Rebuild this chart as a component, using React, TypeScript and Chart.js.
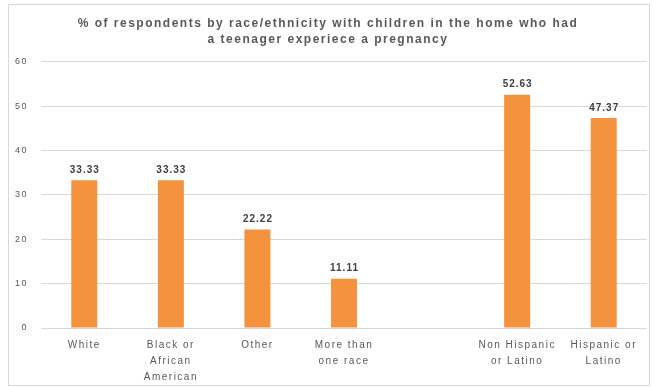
import React, { useEffect, useRef } from "react";
import { Chart, registerables } from "chart.js";

Chart.register(...registerables);

const titleLines = [
  "% of respondents by race/ethnicity with children in the home who had",
  "a teenager experiece a pregnancy",
];
const categories: string[][] = [
  ["White"],
  ["Black or", "African", "American"],
  ["Other"],
  ["More than", "one race"],
  [""],
  ["Non Hispanic", "or Latino"],
  ["Hispanic or", "Latino"],
];
const values: (number | null)[] = [33.33, 33.33, 22.22, 11.11, null, 52.63, 47.37];
const yTicks = [0, 10, 20, 30, 40, 50, 60];

const FONT = "'Liberation Sans', Arial, sans-serif";

const spacing = {
  id: "spacing",
  beforeUpdate(chart: any) {
    chart.ctx.letterSpacing = "1.5px";
  },
  beforeDraw(chart: any) {
    chart.ctx.letterSpacing = "1.5px";
  },
};

const valueLabels = {
  id: "valueLabels",
  afterDatasetsDraw(chart: any) {
    const ctx = chart.ctx;
    const meta = chart.getDatasetMeta(0);
    ctx.save();
    ctx.letterSpacing = "1px";
    ctx.font = `bold 10px ${FONT}`;
    ctx.fillStyle = "#404040";
    ctx.textAlign = "center";
    ctx.textBaseline = "middle";
    meta.data.forEach((bar: any, i: number) => {
      const v = values[i];
      if (v === null || v === undefined) return;
      ctx.fillText(v.toFixed(2), bar.x + 0.5, bar.y - 10);
    });
    ctx.restore();
  },
};

export default function App() {
  const ref = useRef<HTMLCanvasElement>(null);
  useEffect(() => {
    if (!ref.current) return;
    const chart = new Chart(ref.current, {
      type: "bar",
      data: {
        labels: categories,
        datasets: [
          {
            data: values,
            backgroundColor: "#f5923e",
            categoryPercentage: 1,
            barPercentage: 0.3,
          },
        ],
      },
      options: {
        animation: false,
        responsive: false,
        layout: { padding: { left: 0, right: 2, top: 0, bottom: 0 } },
        plugins: {
          legend: { display: false },
          tooltip: { enabled: false },
          title: {
            display: true,
            text: titleLines,
            color: "#595959",
            font: { family: FONT, size: 12, weight: "bold", lineHeight: 1.333 },
            padding: { top: 11, bottom: 14 },
          },
        },
        scales: {
          x: {
            grid: { display: false, drawTicks: false },
            border: { display: false },
            ticks: {
              color: "#595959",
              font: { family: FONT, size: 10, lineHeight: 1.6 },
              maxRotation: 0,
              autoSkip: false,
              padding: 9,
            },
            afterFit(scale: any) {
              scale.height = 57;
            },
          },
          y: {
            min: 0,
            max: 60,
            afterBuildTicks(scale: any) {
              scale.ticks = yTicks.map((v) => ({ value: v }));
            },
            grid: { color: "#d9d9d9", drawTicks: false, lineWidth: 1 },
            border: { display: false },
            ticks: {
              color: "#595959",
              font: { family: FONT, size: 9 },
              padding: 13,
            },
            afterFit(scale: any) {
              scale.width = 32;
            },
          },
        },
      },
      plugins: [spacing, valueLabels],
    });
    return () => chart.destroy();
  }, []);
  return (
    <div
      style={{
        position: "absolute",
        left: 8,
        top: 4,
        width: 640,
        height: 380,
        border: "1px solid #d9d9d9",
        background: "#fff",
      }}
    >
      <canvas ref={ref} width={640} height={380} />
    </div>
  );
}
